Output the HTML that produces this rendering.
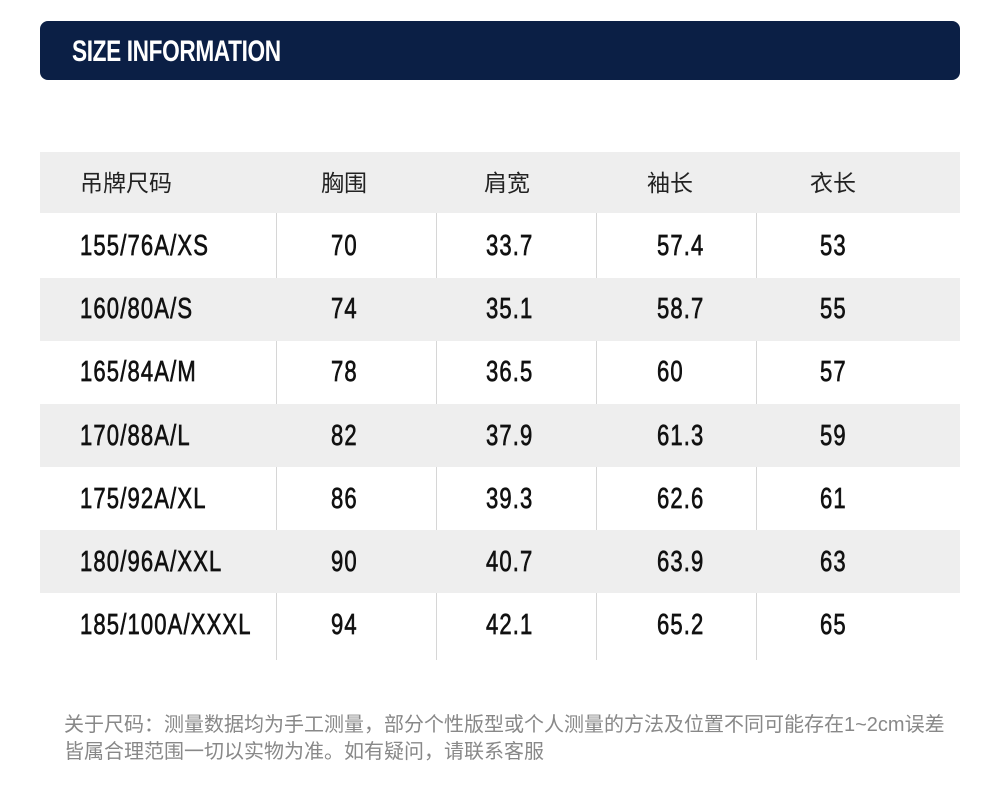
<!DOCTYPE html>
<html><head><meta charset="utf-8"><style>
body{margin:0;width:1000px;height:797px;background:#fff;position:relative;overflow:hidden;font-family:"Liberation Sans","Noto Sans CJK SC",sans-serif}
.bar{position:absolute;left:40px;top:21px;width:920px;height:59px;background:#0b1f45;border-radius:8px}
.title{position:absolute;left:72px;top:35px;color:#fff;font-weight:bold;font-size:30px;line-height:34px;transform:scaleX(0.755);transform-origin:left center;letter-spacing:-0.5px}
.row{position:absolute;left:40px;width:920px;height:63px}
.g{background:#eeeeee}
.vl{position:absolute;top:213px;height:447px;width:1px;background:#d6d6d6}
.t{position:absolute;font-size:29px;color:#111;font-weight:normal;-webkit-text-stroke:0.7px #111;letter-spacing:1.5px;transform:scaleX(0.76);transform-origin:left center;line-height:30px}
.h{position:absolute;font-size:23px;color:#222;line-height:30px}
.foot{position:absolute;left:64px;font-size:20px;color:#888;line-height:26px;white-space:nowrap}
</style></head><body>
<div class="bar"></div><div class="title">SIZE INFORMATION</div>
<div class="vl" style="left:276px"></div><div class="vl" style="left:436px"></div><div class="vl" style="left:596px"></div><div class="vl" style="left:756px"></div>
<div class="row g" style="top:152px;height:61px"></div>
<div class="row g" style="top:278px"></div>
<div class="row g" style="top:404px"></div>
<div class="row g" style="top:530px"></div>
<div class="h" style="left:80px;top:168px">吊牌尺码</div>
<div class="h" style="left:321px;top:168px">胸围</div>
<div class="h" style="left:484px;top:168px">肩宽</div>
<div class="h" style="left:647px;top:168px">袖长</div>
<div class="h" style="left:810px;top:168px">衣长</div>
<div id="rows"></div>
<script>
var d=[["155/76A/XS","70","33.7","57.4","53"],["160/80A/S","74","35.1","58.7","55"],["165/84A/M","78","36.5","60","57"],["170/88A/L","82","37.9","61.3","59"],["175/92A/XL","86","39.3","62.6","61"],["180/96A/XXL","90","40.7","63.9","63"],["185/100A/XXXL","94","42.1","65.2","65"]];
var xs=[80,331,486,657,820],h="";
d.forEach(function(r,i){var y=231+i*63.2;r.forEach(function(c,j){h+='<div class="t" style="left:'+xs[j]+'px;top:'+y+'px">'+c+'</div>';});});
document.getElementById("rows").innerHTML=h;
</script>
<div class="foot" style="top:712px">关于尺码：测量数据均为手工测量，部分个性版型或个人测量的方法及位置不同可能存在1~2cm误差</div>
<div class="foot" style="top:739px">皆属合理范围一切以实物为准。如有疑问，请联系客服</div>
</body></html>
